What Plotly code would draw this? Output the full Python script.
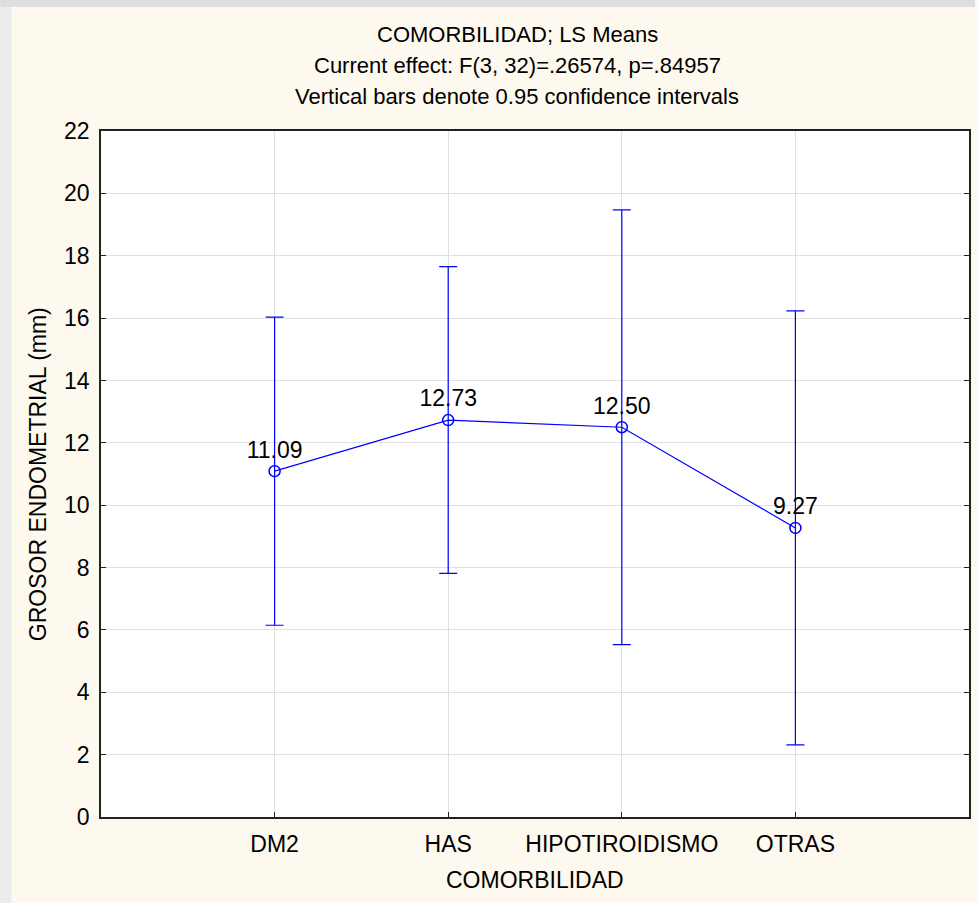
import plotly.graph_objects as go

# LS means of endometrial thickness by comorbidity, with 95% CI half-widths
categories = ["DM2", "HAS", "HIPOTIROIDISMO", "OTRAS"]
means = [11.09, 12.73, 12.50, 9.27]
ci_half = [4.94, 4.92, 6.97, 6.96]
y_ticks = [0, 2, 4, 6, 8, 10, 12, 14, 16, 18, 20, 22]

title_lines = [
    "COMORBILIDAD; LS Means",
    "Current effect: F(3, 32)=.26574, p=.84957",
    "Vertical bars denote 0.95 confidence intervals",
]

W, H = 977, 903
ML, MR, MT, MB = 101, 6, 131, 86
FONT = "Liberation Sans, Arial, sans-serif"
BLUE = "#0000FF"

pw = W - ML - MR
ph = H - MT - MB


def py(pix):
    """Page pixel row -> paper y coordinate."""
    return (H - MB - pix) / ph


def px(pix):
    """Page pixel column -> paper x coordinate."""
    return (pix - ML) / pw


x_idx = list(range(len(categories)))

fig = go.Figure()
fig.add_trace(go.Scatter(
    x=x_idx,
    y=means,
    mode="lines+markers+text",
    line=dict(color=BLUE, width=1.2),
    marker=dict(symbol="circle-open", size=11, color=BLUE, line=dict(width=1.5, color=BLUE)),
    error_y=dict(type="data", array=ci_half, visible=True, color=BLUE, thickness=1.2, width=9),
    text=[f"{v:.2f}" for v in means],
    textposition="top center",
    textfont=dict(family=FONT, size=23, color="black"),
    hoverinfo="skip",
    showlegend=False,
))

# grey strips along the left and top edges of the page
fig.add_shape(type="rect", xref="paper", yref="paper",
              x0=px(0), x1=px(11), y0=py(H), y1=py(0),
              fillcolor="#ECECEC", line_width=0, layer="below")
fig.add_shape(type="rect", xref="paper", yref="paper",
              x0=px(0), x1=px(W), y0=py(7), y1=py(0),
              fillcolor="#DEDEDE", line_width=0, layer="below")

# three-line heading
for row, line in zip([35, 65, 96], title_lines):
    fig.add_annotation(
        text=line, xref="paper", yref="paper",
        x=px(518), y=py(row), xanchor="center", yanchor="middle",
        showarrow=False, font=dict(family=FONT, size=22, color="black"),
    )

# axis titles
fig.add_annotation(
    text="COMORBILIDAD", xref="paper", yref="paper",
    x=0.5, y=py(880), xanchor="center", yanchor="middle",
    showarrow=False, font=dict(family=FONT, size=23, color="black"),
)
fig.add_annotation(
    text="GROSOR ENDOMETRIAL (mm)", xref="paper", yref="paper",
    x=px(38), y=py(474), xanchor="center", yanchor="middle", textangle=-90,
    showarrow=False, font=dict(family=FONT, size=23, color="black"),
)

fig.update_layout(
    width=W, height=H,
    margin=dict(l=ML, r=MR, t=MT, b=MB),
    paper_bgcolor="#FEF9EE",
    plot_bgcolor="white",
    font=dict(family=FONT, size=23, color="black"),
    xaxis=dict(
        range=[-1, 4],
        tickmode="array", tickvals=x_idx, ticktext=categories,
        showgrid=True, gridcolor="#E0E0E0", gridwidth=1,
        zeroline=False,
        showline=True, linecolor="#222222", linewidth=1.5, mirror=True,
        ticks="inside", ticklen=5, tickcolor="#222222",
        tickfont=dict(family=FONT, size=23),
        ticklabelstandoff=6,
    ),
    yaxis=dict(
        range=[0, 22],
        tickmode="array", tickvals=y_ticks,
        showgrid=True, gridcolor="#E0E0E0", gridwidth=1,
        zeroline=False,
        showline=True, linecolor="#222222", linewidth=1.5, mirror="ticks",
        ticks="inside", ticklen=5, tickcolor="#222222",
        tickfont=dict(family=FONT, size=23),
        ticklabelstandoff=5,
    ),
)

fig.write_html("out.html")
